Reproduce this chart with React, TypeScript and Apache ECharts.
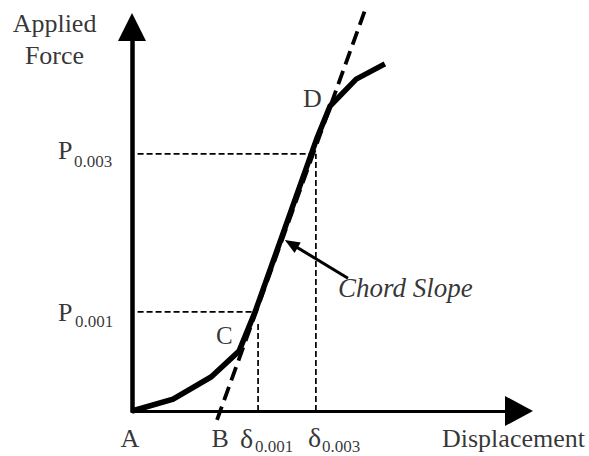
import React, { useEffect, useRef } from "react";
import * as echarts from "echarts";

// ---- data (in arbitrary displacement / force units) ----
const xMax = 100;
const yMax = 100;
const curveX = [0, 11.0, 21.2, 28.7, 33.0, 49.6, 53.1, 60.1, 67.8];
const curveY = [0, 3.2, 9.2, 16.2, 26.8, 73.8, 82.4, 89.7, 93.8];
const tangentX = [22.8, 62.5];
const tangentY = [-2.4, 108.4];
const p001 = 26.8;
const p003 = 69.5;
const d001 = 33.8;
const d003 = 49.3;
const d001Top = 24.1;
const guideStart = 1.5;
const p001End = 33.0;
const p003End = 48.5;
const chordTail = [57.9, 35.9];
const chordTip = [41.0, 46.2];
const pointIdxC = 3;
const pointIdxD = 6;

// ---- texts ----
const axisTitles = ["Applied\nForce", "Displacement"];
const originLabels = ["A", "B"];
const deltaSymbol = "δ";
const pSymbol = "P";
const subLabels = ["0.001", "0.003"];
const pointNames = ["C", "D"];
const annotation = "Chord Slope";

export default function App() {
  const ref = useRef<HTMLDivElement>(null);

  useEffect(() => {
    if (!ref.current) return;
    const chart = echarts.init(ref.current, undefined, { renderer: "svg" });

    const curve = curveX.map((x, i) => [x, curveY[i]]);
    const tangent = tangentX.map((x, i) => [x, tangentY[i]]);
    const bX =
      tangentX[0] +
      ((0 - tangentY[0]) * (tangentX[1] - tangentX[0])) / (tangentY[1] - tangentY[0]);
    const headFrac = 0.1;
    const arrowEnd = [
      chordTip[0] + headFrac * (chordTail[0] - chordTip[0]),
      chordTip[1] + headFrac * (chordTail[1] - chordTip[1]),
    ];
    const pC = [curveX[pointIdxC], curveY[pointIdxC]];
    const pD = [curveX[pointIdxD], curveY[pointIdxD]];

    const lab = (
      x: number,
      y: number,
      text: string,
      align: string,
      offset: number[],
      fontSize: number,
      extra: any = {}
    ) => ({
      value: [x, y],
      label: {
        show: true,
        position: "inside",
        formatter: () => text,
        align,
        verticalAlign: "middle",
        offset,
        fontSize,
        color: "#000",
        fontFamily: "Liberation Serif",
        ...extra,
      },
    });

    const labels = [
      lab(0, yMax, axisTitles[0], "center", [-77.5, -1.4], 26, { lineHeight: 32 }),
      lab(xMax, 0, axisTitles[1], "left", [-63, 27.6], 26),
      lab(0, 0, originLabels[0], "center", [-2, 27.6], 26),
      lab(bX, 0, originLabels[1], "center", [0, 27.6], 26),
      lab(d001, 0, deltaSymbol, "left", [-18, 27], 28),
      lab(d001, 0, subLabels[0], "left", [-3, 35], 17, { lineHeight: 14 }),
      lab(d003, 0, deltaSymbol, "left", [-8, 26], 28),
      lab(d003, 0, subLabels[1], "left", [6, 35], 17, { lineHeight: 14 }),
      lab(0, p003, pSymbol, "left", [-74, -3], 26),
      lab(0, p003, subLabels[1], "left", [-58, 7.5], 17),
      lab(0, p001, pSymbol, "left", [-74, 1], 26),
      lab(0, p001, subLabels[0], "left", [-57, 10], 17),
      lab(pC[0], pC[1], pointNames[0], "left", [-23, -15.2], 25),
      lab(pD[0], pD[1], pointNames[1], "left", [-27, -7.5], 26),
      lab(chordTail[0], chordTail[1], annotation, "left", [-10, 10], 27, {
        fontStyle: "italic",
      }),
    ];

    const thinDash = { color: "#000", width: 1.7, type: [6, 3] as any };

    const guide = (data: number[][]) => ({
      type: "line",
      data,
      symbol: "none",
      silent: true,
      clip: false,
      lineStyle: thinDash,
      z: 2,
    });

    chart.setOption({
      animation: false,
      backgroundColor: "#fff",
      textStyle: { fontFamily: "Liberation Serif", color: "#000" },
      grid: {
        left: 132,
        right: 84,
        top: 41,
        bottom: 45,
        containLabel: false,
        outerBoundsMode: "none",
      },
      xAxis: {
        type: "value",
        min: 0,
        max: xMax,
        axisLine: {
          show: true,
          lineStyle: { color: "#000", width: 3 },
          symbol: ["none", "triangle"],
          symbolSize: [30, 28],
          symbolOffset: [0, 14],
        },
        axisTick: { show: false },
        axisLabel: { show: false },
        splitLine: { show: false },
      },
      yAxis: {
        type: "value",
        min: 0,
        max: yMax,
        axisLine: {
          show: true,
          lineStyle: { color: "#000", width: 4.5 },
          symbol: ["none", "triangle"],
          symbolSize: [28, 28],
          symbolOffset: [0, 14],
        },
        axisTick: { show: false },
        axisLabel: { show: false },
        splitLine: { show: false },
      },
      series: [
        guide([
          [guideStart, p001],
          [p001End, p001],
        ]),
        guide([
          [d001, 0],
          [d001, d001Top],
        ]),
        guide([
          [guideStart, p003],
          [p003End, p003],
        ]),
        guide([
          [d003, 0],
          [d003, p003],
        ]),
        {
          type: "line",
          data: curve,
          symbol: "none",
          silent: true,
          clip: false,
          lineStyle: { color: "#000", width: 5.5, join: "miter" },
          z: 3,
        },
        {
          type: "line",
          data: tangent,
          symbol: "none",
          silent: true,
          clip: false,
          lineStyle: { color: "#000", width: 3.8, type: [14, 7] as any },
          z: 4,
        },
        {
          type: "line",
          data: [],
          symbol: "none",
          silent: true,
          markLine: {
            silent: true,
            symbol: ["none", "triangle"],
            symbolSize: [12, 15],
            label: { show: false },
            lineStyle: { color: "#000", width: 3, type: "solid" },
            emphasis: { disabled: true },
            data: [[{ coord: chordTail }, { coord: arrowEnd }]],
          },
          z: 5,
        },
        {
          type: "scatter",
          data: labels,
          symbolSize: 0,
          silent: true,
          clip: false,
          itemStyle: { color: "transparent" },
          emphasis: { disabled: true },
          z: 6,
        },
      ],
    });

    return () => chart.dispose();
  }, []);

  return (
    <div
      ref={ref}
      style={{ position: "fixed", left: 0, top: 0, width: 589, height: 456 }}
    />
  );
}
